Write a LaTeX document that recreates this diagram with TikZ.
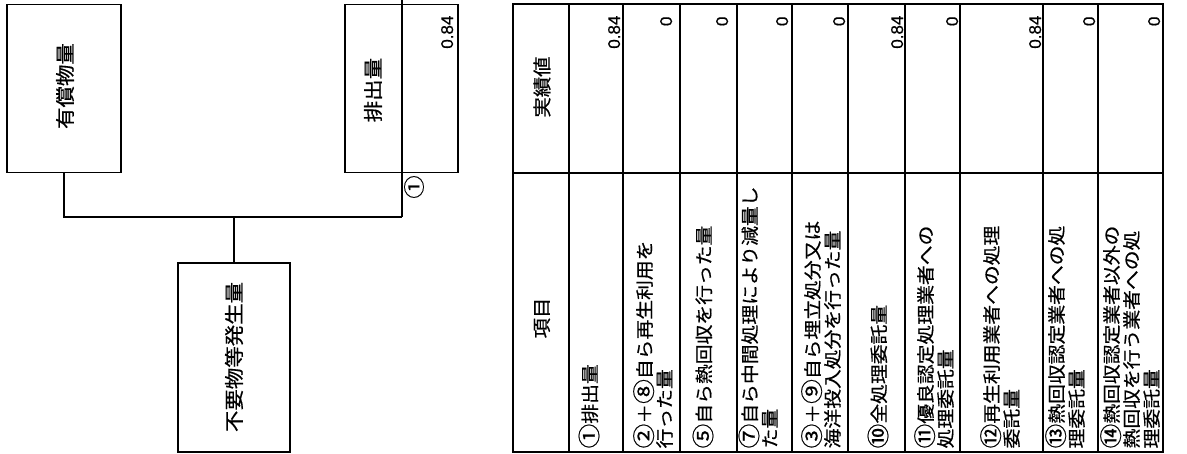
\documentclass[tikz,border=0pt]{standalone}
\usepackage{fontspec}
\setmainfont{Noto Sans CJK JP}
\newfontfamily\jpfnt[FakeStretch=1.1,FakeBold=0.6]{Noto Sans CJK JP}
\newfontfamily\numfnt[FakeBold=0.5]{Liberation Sans}
\newcommand\cir[1]{\raisebox{-0.05em}{\scalebox{1.25}{#1}}}
\begin{document}
\begin{tikzpicture}[x=1pt,y=-1pt,
  line width=1.2pt,
  box/.style={draw, line width=1.2pt, inner sep=0pt},
  boxlbl/.style={rotate=90, inner sep=0pt, font=\jpfnt\fontsize{19.5}{20}\selectfont},
  hdr/.style={rotate=90, inner sep=0pt, font=\jpfnt\fontsize{18.5}{20}\selectfont},
  item/.style={rotate=90, anchor=west, align=left, inner sep=0pt, font=\jpfnt\fontsize{18}{20}\selectfont},
  val/.style={rotate=90, anchor=base east, inner sep=0pt, font=\numfnt\fontsize{17}{18}\selectfont},
  grid/.style={line width=1.1pt}]
\useasboundingbox (0,0) rectangle (1187,453);

% ---- flow part ----
\node[box, minimum width=114pt, minimum height=168pt] (yusho) at (64,88.5) {};
\node[box, minimum width=113pt, minimum height=168pt] (haishutsu) at (401.5,88.5) {};
\node[box, minimum width=112pt, minimum height=189pt] (fuyo) at (234,357.5) {};

\node[boxlbl] (tyusho) at (65,86) {有償物量};
\node[boxlbl] (thai) at (373,90) {排出量};
\node[boxlbl] (tfuyo) at (234,357) {不要物等発生量};
\node[val] (vhai) at (453,15) {0.84};
\node[rotate=90, inner sep=0pt, font=\jpfnt\fontsize{17}{18}\selectfont] (c1) at (414,187) {\cir{①}};

\coordinate (top) at (402,0);
\coordinate (j1) at (402,217);
\draw (top) -- (j1);
\draw (yusho.south) |- (j1);
\draw (fuyo.north) -- (fuyo.north |- j1);

% ---- table ----
\node[draw, line width=1.3pt, inner sep=0pt, minimum width=650pt, minimum height=448pt] (tbl) at (838,228) {};
\draw[grid] (tbl.west |- 0,173) -- (tbl.east |- 0,173);
\foreach \xx in {569,623,680,737,792,848,905,960,1043,1098}
  \draw[grid] (\xx,4) -- (\xx,452);

\node[hdr] (h1) at (542,87) {実績値};
\node[hdr] (h2) at (542,318) {項目};

\node[item] (r1) at (589,449) {\cir{①}排出量};
\node[item] (r2) at (653,449) {\cir{②}＋\cir{⑧}自ら再生利用を\\行った量};
\node[item] (r3) at (703,449) {\cir{⑤}自ら熱回収を行った量};
\node[item] (r4) at (758,449) {\cir{⑦}自ら中間処理により減量し\\た量};
\node[item] (r5) at (821,449) {\cir{③}＋\cir{⑨}自ら埋立処分又は\\海洋投入処分を行った量};
\node[item] (r6) at (878,449) {\cir{⑩}全処理委託量};
\node[item] (r7) at (934,449) {\cir{⑪}優良認定処理業者への\\処理委託量};
\node[item] (r8) at (1000,449) {\cir{⑫}再生利用業者への処理\\委託量};
\node[item] (r9) at (1065,449) {\cir{⑬}熱回収認定業者への処\\理委託量};
\node[item] (r10) at (1130,449) {\cir{⑭}熱回収認定業者以外の\\熱回収を行う業者への処\\理委託量};

\node[val] (v1) at (620,15) {0.84};
\node[val] (v2) at (672,16) {0};
\node[val] (v3) at (728,16) {0};
\node[val] (v4) at (788,16) {0};
\node[val] (v5) at (845,16) {0};
\node[val] (v6) at (903,15) {0.84};
\node[val] (v7) at (958,16) {0};
\node[val] (v8) at (1041,15) {0.84};
\node[val] (v9) at (1095,16) {0};
\node[val] (v10) at (1160,16) {0};
\end{tikzpicture}
\end{document}
